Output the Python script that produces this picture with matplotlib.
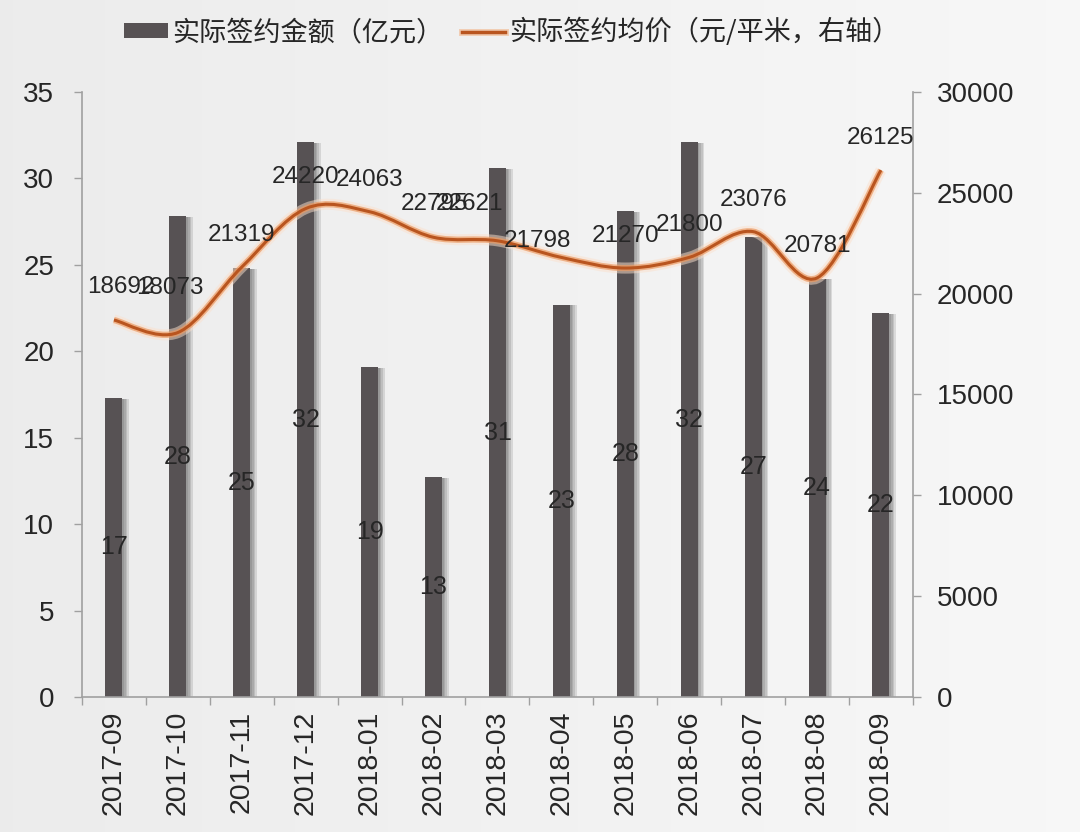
import numpy as np
import matplotlib
matplotlib.use('Agg')
import matplotlib.pyplot as plt
import matplotlib.patheffects as pe
from matplotlib.path import Path
from matplotlib.patches import PathPatch, Patch
from matplotlib.lines import Line2D

# data
months = ['2017-09', '2017-10', '2017-11', '2017-12', '2018-01', '2018-02', '2018-03',
          '2018-04', '2018-05', '2018-06', '2018-07', '2018-08', '2018-09']
amount = [17.3, 27.8, 24.8, 32.1, 19.1, 12.7, 30.6, 22.7, 28.1, 32.1, 26.6, 24.2, 22.2]
price = [18692, 18073, 21319, 24220, 24063, 22795, 22621, 21798, 21270, 21800, 23076, 20781, 26125]

bar_name = '实际签约金额（亿元）'
line_name = '实际签约均价（元/平米，右轴）'

num_font = 'Liberation Sans'
cjk_font = ['Noto Sans CJK SC', 'DejaVu Sans']

bar_color = '#575254'
line_color = '#b9551f'
axis_color = '#a0a0a0'
text_color = '#262626'


def smooth_path(xs, ys):
    # cubic bezier through the points (like excel's smoothed line)
    pts = np.column_stack([xs, ys]).astype(float)
    n = len(pts)
    verts = [pts[0]]
    codes = [Path.MOVETO]
    for i in range(n - 1):
        p0 = pts[i - 1] if i > 0 else pts[i]
        p1 = pts[i]
        p2 = pts[i + 1]
        p3 = pts[i + 2] if i + 2 < n else pts[i + 1]
        verts += [p1 + (p2 - p0) / 6, p2 - (p3 - p1) / 6, p2]
        codes += [Path.CURVE4] * 3
    return Path(verts, codes)


fig = plt.figure(figsize=(10.8, 8.32), dpi=100)

# soft grey background
bg = fig.add_axes([0, 0, 1, 1], zorder=-10)
grad = np.linspace(0.925, 0.97, 256).reshape(1, -1)
bg.imshow(np.dstack([grad, grad, grad]), aspect='auto', extent=[0, 1, 0, 1])
bg.axis('off')

ax = fig.add_axes([0.0759, 0.1623, 0.7694, 0.7271])
ax2 = ax.twinx()
ax.patch.set_visible(False)
ax2.patch.set_visible(False)

x = np.arange(len(months))
shadow = [pe.SimplePatchShadow(offset=(o, -0.5), shadow_rgbFace='#1e1e1e', alpha=0.12)
          for o in (1.2, 2.4, 3.6, 4.8)]
ax.bar(x, amount, width=0.265, color=bar_color, zorder=2,
       path_effects=shadow + [pe.Normal()])
for xi, v in zip(x, amount):
    ax.text(xi, v / 2, f'{v:.0f}', ha='center', va='center', fontsize=18,
            family=num_font, color=text_color, zorder=3)

path = smooth_path(x, price)
line = PathPatch(path, facecolor='none', edgecolor=line_color, lw=2.2, zorder=3,
                 path_effects=[pe.Stroke(linewidth=8, foreground='#fbe0cc', alpha=0.5),
                               pe.Stroke(linewidth=4.5, foreground='#ec9a62', alpha=0.7),
                               pe.Normal()])
ax2.add_patch(line)

# label offsets in pixels (label centre relative to the point)
offsets = {0: (7, 33), 1: (-8, 45), 5: (1, 33), 6: (-28, 37), 7: (-24, 16)}
for i, (xi, v) in enumerate(zip(x, price)):
    dx, dy = offsets.get(i, (0, 32))
    ax2.annotate(f'{v}', (xi, v), xytext=(dx, dy), textcoords='offset pixels',
                 ha='center', va='center', fontsize=17.5, family=num_font,
                 color=text_color, zorder=4)

ax.set_xlim(-0.5, len(months) - 0.5)
ax.set_ylim(0, 35)
ax.set_yticks(range(0, 36, 5))
ax2.set_ylim(0, 30000)
ax2.set_yticks(range(0, 30001, 5000))

ax.set_xticks(x)
ax.set_xticklabels(months, rotation=90, family=num_font, fontsize=20.5, color=text_color)
ax.set_xticks(np.arange(-0.5, len(months), 1), minor=True)
ax.tick_params(axis='x', which='major', length=0, pad=10)
ax.tick_params(axis='x', which='minor', length=6, width=1, color=axis_color)
ax.tick_params(axis='y', length=6, width=1, color=axis_color, pad=14,
               labelsize=20, labelcolor=text_color)
ax2.tick_params(axis='y', length=6, width=1, color=axis_color, pad=11,
                labelsize=20, labelcolor=text_color)
for lab in ax.get_yticklabels() + ax2.get_yticklabels():
    lab.set_family(num_font)

for a in (ax, ax2):
    a.spines['top'].set_visible(False)
    for s in a.spines.values():
        s.set_color(axis_color)
        s.set_linewidth(1.2)
ax.spines['right'].set_visible(False)
ax2.spines['left'].set_visible(False)
ax2.spines['bottom'].set_visible(False)

handles = [Patch(facecolor=bar_color, edgecolor='none'),
           Line2D([], [], color=line_color, lw=2.5,
                  path_effects=[pe.Stroke(linewidth=5, foreground='#f2b58a', alpha=0.6), pe.Normal()])]
fig.legend(handles, [bar_name, line_name], loc='center', bbox_to_anchor=(0.474, 0.9615),
           ncol=2, frameon=False, prop={'family': cjk_font, 'size': 19.5},
           handlelength=1.6, handleheight=0.5, handletextpad=0.15, columnspacing=0.7,
           labelcolor=text_color)

fig.savefig('out.png', dpi=100)
